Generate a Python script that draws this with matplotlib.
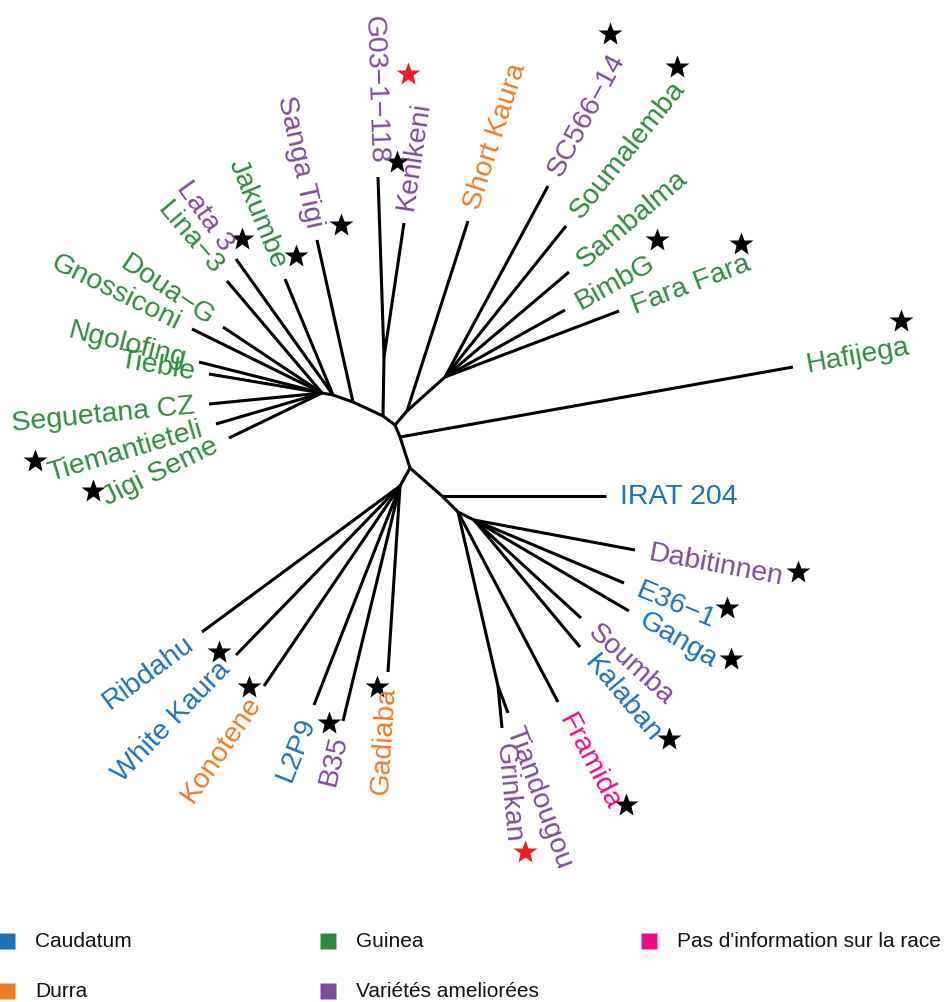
import math
import matplotlib
matplotlib.use("Agg")
import matplotlib.pyplot as plt

# --- data (pixel space, y down) ---
node_names = ["L1", "L2", "L3", "L4", "GK", "N0", "U1", "U2", "H0", "N1", "LL", "R0", "R1", "R2", "T"]
node_x = [322, 333, 353, 383, 384, 395, 407, 445, 400, 410, 400, 442, 458, 474, 498]
node_y = [394, 396, 403, 417, 358, 426, 412, 378, 438, 469, 487, 497, 513, 521, 687]

edge_from = ["L1", "L2", "L3", "L4", "L4", "N0", "U1", "N0", "H0", "N1", "N1", "R0", "R1", "R1"]
edge_to = ["L2", "L3", "L4", "GK", "N0", "U1", "U2", "H0", "N1", "LL", "R0", "R1", "R2", "T"]

tip_labels = ["Doua\u2212G", "Gnossiconi", "Ngolofing", "Tieble", "Seguetana CZ", "Tiemantieteli",
              "Jigi Seme", "Lina\u22123", "Lata 3", "Jakumbe", "Sanga Tigi", "G03\u22121\u2212118",
              "Kenikeni", "Short Kaura", "SC566\u221214", "Soumalemba", "Sambalma", "BimbG",
              "Fara Fara", "Hafijega", "IRAT 204", "Dabitinnen", "E36\u22121", "Ganga", "Soumba",
              "Kalaban", "Framida", "Tiandougou", "Grinkan", "Gadiaba", "B35", "L2P9", "Konotene",
              "White Kaura", "Ribdahu"]
tip_x = [223, 192, 199, 209, 209, 216, 229, 227, 236, 285, 317, 378, 404, 468, 548, 566, 569, 565,
         619, 793, 606, 635, 624, 629, 581, 580, 558, 508, 502, 388, 343, 314, 264, 236, 202]
tip_y = [328, 330, 363, 375, 405, 425, 439, 282, 260, 280, 241, 178, 224, 222, 187, 227, 273, 311,
         312, 368, 497, 551, 584, 612, 619, 648, 703, 714, 729, 673, 722, 706, 687, 656, 633]
tip_parent = ["L1", "L1", "L1", "L1", "L1", "L1", "L1", "L1", "L2", "L2", "L3", "GK", "GK", "U1",
              "U2", "U2", "U2", "U2", "U2", "H0", "R0", "R2", "R2", "R2", "R2", "R2", "R1", "T", "T",
              "LL", "LL", "LL", "LL", "LL", "LL"]
tip_group = ["G", "G", "G", "G", "G", "G", "G", "G", "V", "G", "V", "V", "V", "D", "V", "G", "G", "G",
             "G", "G", "C", "V", "C", "C", "V", "C", "P", "V", "V", "D", "V", "C", "D", "C", "C"]

star_x = [610, 677, 408, 397, 341, 242, 296, 657, 741, 901, 35, 93, 219, 249, 329, 377, 798, 727,
          731, 669, 626, 525]
star_y = [35, 68, 75, 163, 226, 240, 257, 241, 245, 322, 462, 492, 653, 688, 724, 688, 573, 609,
          660, 740, 806, 853]
star_c = ["k", "k", "r", "k", "k", "k", "k", "k", "k", "k", "k", "k", "k", "k", "k", "k", "k", "k",
          "k", "k", "k", "r"]

group_keys = ["C", "D", "G", "V", "P"]
group_names = ["Caudatum", "Durra", "Guinea", "Vari\u00e9t\u00e9s amelior\u00e9es",
               "Pas d'information sur la race"]
group_colors = ["#1b72bb", "#f07a22", "#2e8b3e", "#7e4a9e", "#ec0b8c"]

STAR_RED = "#ee1c24"

plt.rcParams["font.family"] = ["Liberation Sans", "DejaVu Sans"]

W, H = 945, 1003
fig = plt.figure(figsize=(W / 100, H / 100), dpi=100)
ax = fig.add_axes([0, 0, 1, 1])
ax.set_xlim(0, W)
ax.set_ylim(H, 0)
ax.axis("off")

pos = {n: (x, y) for n, x, y in zip(node_names, node_x, node_y)}
col = dict(zip(group_keys, group_colors))

for a, b in zip(edge_from, edge_to):
    ax.plot([pos[a][0], pos[b][0]], [pos[a][1], pos[b][1]], color="black", lw=2.2,
            solid_capstyle="butt")

gap = 14
for lab, x, y, p, g in zip(tip_labels, tip_x, tip_y, tip_parent, tip_group):
    px, py = pos[p]
    ax.plot([px, x], [py, y], color="black", lw=2.2, solid_capstyle="butt")
    dx, dy = x - px, y - py
    d = math.hypot(dx, dy)
    ang = math.degrees(math.atan2(-dy, dx))
    lx, ly = x + gap * dx / d, y + gap * dy / d
    # labels on the left half are flipped so they read left to right
    if 90 < ang or ang < -90:
        rot, ha = ang - 180 if ang > 0 else ang + 180, "right"
    else:
        rot, ha = ang, "left"
    ax.text(lx, ly, lab, color=col[g], fontsize=20.5, rotation=rot, rotation_mode="anchor",
            ha=ha, va="center")

for x, y, c in zip(star_x, star_y, star_c):
    ax.plot(x, y, marker="*", ms=18, color=STAR_RED if c == "r" else "black", mec="none")

# legend, filled column by column
for i, (name, c) in enumerate(zip(group_names, group_colors)):
    cx, cy = 7 + 321 * (i // 2), 942 + 50 * (i % 2)
    ax.plot(cx, cy, marker="s", ms=11, color=c, mec="none", clip_on=False)
    ax.text(cx + 28, cy, name, fontsize=15, va="center", ha="left", color="#111111")

fig.savefig("out.png", dpi=100)
